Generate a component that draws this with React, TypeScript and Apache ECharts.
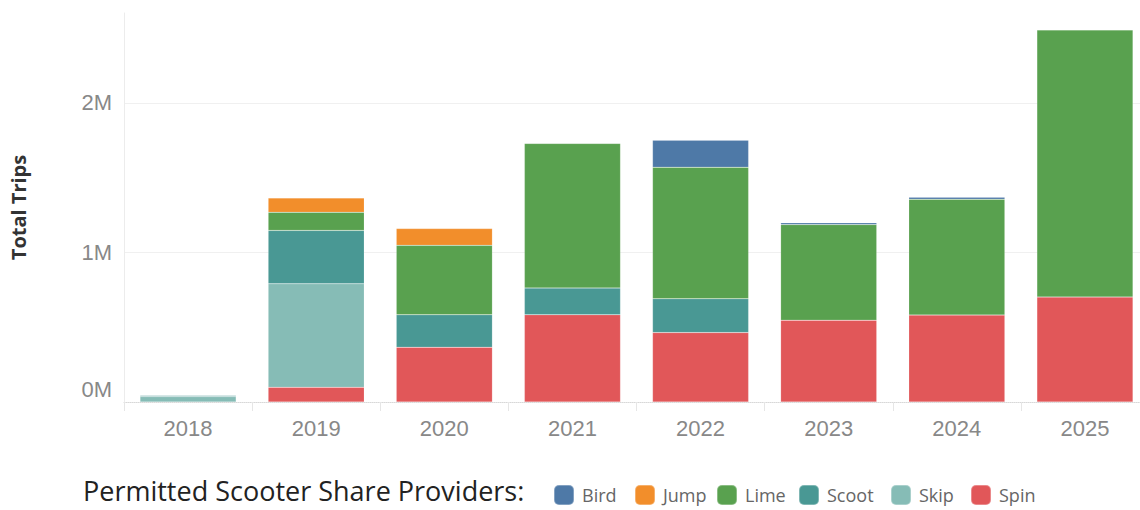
import React, { useEffect, useRef } from "react";
import * as echarts from "echarts";

const years = ["2018", "2019", "2020", "2021", "2022", "2023", "2024", "2025"];
const providers = ["Bird", "Jump", "Lime", "Scoot", "Skip", "Spin"];
const spin = [null, 98000, 366000, 583000, 464000, 547000, 581000, 701000];
const skip = [36000, 692000, null, null, null, null, null, null];
const scoot = [7000, 357000, 217000, 179000, 226000, null, null, null];
const lime = [null, 121000, 464000, 966000, 879000, 639000, 774000, 1786000];
const jump = [null, 96000, 112000, null, null, null, null, null];
const bird = [null, null, null, null, 181000, 12000, 13000, null];
const yTicks = [0, 1000000, 2000000];

const colors: Record<string, string> = {
  Bird: "#4e79a7",
  Jump: "#f28e2b",
  Lime: "#59a14f",
  Scoot: "#499894",
  Skip: "#86bcb6",
  Spin: "#e15759",
};

const legendLefts = [553, 634, 716, 798, 890, 970];

export default function App() {
  const ref = useRef<HTMLDivElement>(null);
  useEffect(() => {
    if (!ref.current) return;
    const chart = echarts.init(ref.current, null, { renderer: "svg" });
    const stackOrder: [string, (number | null)[]][] = [
      ["Spin", spin],
      ["Skip", skip],
      ["Scoot", scoot],
      ["Lime", lime],
      ["Jump", jump],
      ["Bird", bird],
    ];
    chart.setOption({
      animation: false,
      grid: {
        left: 124,
        top: 13,
        width: 1025,
        bottom: 108,
        containLabel: false,
        outerBoundsMode: "none",
      },
      title: {
        text: "Permitted Scooter Share Providers:",
        left: 83,
        top: 477,
        padding: 0,
        textStyle: {
          fontFamily: "Open Sans",
          fontSize: 27,
          lineHeight: 27,
          fontWeight: "normal",
          color: "#222",
        },
      },
      legend: providers.map((p, i) => ({
        data: [p],
        left: legendLefts[i],
        top: 484,
        padding: 0,
        icon: "roundRect",
        itemWidth: 20,
        itemHeight: 20,
        selectedMode: false,
        textStyle: {
          fontFamily: "Open Sans",
          fontSize: 18,
          color: "#666",
          padding: [0, 0, 0, 3],
        },
      })),
      xAxis: {
        type: "category",
        data: years,
        axisLine: { show: true, lineStyle: { color: "#d8d8d8", type: "dotted" } },
        axisTick: { show: true, length: 9, lineStyle: { color: "#e6e6e6" } },
        axisLabel: {
          fontFamily: "Liberation Sans",
          fontSize: 22,
          color: "#888",
          margin: 15,
        },
      },
      yAxis: {
        type: "value",
        min: 0,
        max: 2600000,
        interval: 1000000,
        name: "Total Trips",
        nameLocation: "middle",
        nameGap: 96,
        nameTextStyle: {
          fontFamily: "Open Sans",
          fontWeight: "bold",
          fontSize: 20,
          color: "#333",
        },
        axisLine: { show: true, lineStyle: { color: "#ececec" } },
        axisTick: { show: false },
        splitLine: {
          show: true,
          showMinLine: false,
          showMaxLine: false,
          lineStyle: { color: "#f0f0f0" },
        },
        axisLabel: {
          showMaxLabel: false,
          fontFamily: "Liberation Sans",
          fontSize: 22,
          color: "#888",
          margin: 12,
          formatter: (v: number) => {
            if (!yTicks.includes(v)) return "";
            return v === 0 ? "{z|0M}" : v / 1000000 + "M";
          },
          rich: {
            z: {
              fontFamily: "Liberation Sans",
              fontSize: 22,
              color: "#888",
              padding: [0, 0, 26, 0],
            },
          },
        },
      },
      series: stackOrder.map(([name, data]) => ({
        name,
        type: "bar",
        stack: "total",
        data,
        barCategoryGap: "25%",
        itemStyle: {
          color: colors[name],
          borderColor: "rgba(255,255,255,0.3)",
          borderWidth: 0.5,
        },
      })),
    });
    return () => chart.dispose();
  }, []);
  return (
    <div
      ref={ref}
      style={{ position: "absolute", left: 0, top: 0, width: 1140, height: 510 }}
    />
  );
}
